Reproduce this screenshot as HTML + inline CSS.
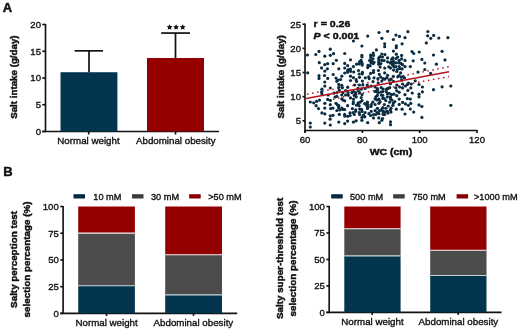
<!DOCTYPE html>
<html><head><meta charset="utf-8"><style>
html,body{margin:0;padding:0;background:#fff;}
svg{display:block;filter:blur(0.3px);}
text{font-family:"Liberation Sans",sans-serif;fill:#111;stroke:#111;stroke-width:0.35px;}
text[font-weight="bold"]{stroke-width:0.45px;}
</style></head><body>
<svg width="520" height="331" viewBox="0 0 520 331">
<rect width="520" height="331" fill="#fff"/>
<text x="2.7" y="11.9" font-size="13" font-weight="bold" text-anchor="start" style="stroke-width:0.45px">A</text>
<text x="3.2" y="176" font-size="13" font-weight="bold" text-anchor="start" style="stroke-width:0.45px">B</text>
<line x1="45.5" y1="23.9" x2="45.5" y2="131.5" stroke="#111" stroke-width="1.65"/>
<line x1="42.3" y1="131.5" x2="219" y2="131.5" stroke="#111" stroke-width="1.65"/>
<line x1="42.3" y1="131.5" x2="45.5" y2="131.5" stroke="#111" stroke-width="1.65"/>
<text x="41" y="134.9" font-size="9.6" font-weight="normal" text-anchor="end" >0</text>
<line x1="42.3" y1="104.75" x2="45.5" y2="104.75" stroke="#111" stroke-width="1.65"/>
<text x="41" y="108.15" font-size="9.6" font-weight="normal" text-anchor="end" >5</text>
<line x1="42.3" y1="78.0" x2="45.5" y2="78.0" stroke="#111" stroke-width="1.65"/>
<text x="41" y="81.4" font-size="9.6" font-weight="normal" text-anchor="end" >10</text>
<line x1="42.3" y1="51.25" x2="45.5" y2="51.25" stroke="#111" stroke-width="1.65"/>
<text x="41" y="54.65" font-size="9.6" font-weight="normal" text-anchor="end" >15</text>
<line x1="42.3" y1="24.5" x2="45.5" y2="24.5" stroke="#111" stroke-width="1.65"/>
<text x="41" y="27.9" font-size="9.6" font-weight="normal" text-anchor="end" >20</text>
<line x1="88.7" y1="131.5" x2="88.7" y2="134.5" stroke="#111" stroke-width="1.65"/>
<line x1="175.5" y1="131.5" x2="175.5" y2="134.5" stroke="#111" stroke-width="1.65"/>
<rect x="60.5" y="72.222" width="56.9" height="59.278000000000006" fill="#03364e"/>
<rect x="147" y="57.991" width="57" height="73.509" fill="#940000"/>
<line x1="89" y1="72.222" x2="89" y2="50.822" stroke="#111" stroke-width="1.7"/>
<line x1="74.6" y1="50.822" x2="103" y2="50.822" stroke="#111" stroke-width="1.7"/>
<line x1="175.5" y1="57.991" x2="175.5" y2="33.06" stroke="#111" stroke-width="1.7"/>
<line x1="161.2" y1="33.06" x2="190" y2="33.06" stroke="#111" stroke-width="1.7"/>
<polygon points="169.60,24.30 170.51,26.05 172.45,26.37 171.07,27.78 171.36,29.73 169.60,28.85 167.84,29.73 168.13,27.78 166.75,26.37 168.69,26.05" fill="#111"/>
<polygon points="176.10,24.30 177.01,26.05 178.95,26.37 177.57,27.78 177.86,29.73 176.10,28.85 174.34,29.73 174.63,27.78 173.25,26.37 175.19,26.05" fill="#111"/>
<polygon points="182.70,24.30 183.61,26.05 185.55,26.37 184.17,27.78 184.46,29.73 182.70,28.85 180.94,29.73 181.23,27.78 179.85,26.37 181.79,26.05" fill="#111"/>
<text x="88.5" y="144" font-size="9.75" font-weight="normal" text-anchor="middle" >Normal weight</text>
<text x="175.8" y="144" font-size="9.75" font-weight="normal" text-anchor="middle" >Abdominal obesity</text>
<text transform="translate(16.7,77.1) rotate(-90)" x="0" y="0" font-size="9.75" font-weight="bold" text-anchor="middle">Salt intake (g/day)</text>
<line x1="305.0" y1="23.599999999999998" x2="305.0" y2="132.6" stroke="#111" stroke-width="1.65"/>
<line x1="305.0" y1="130.5" x2="477.6" y2="130.5" stroke="#111" stroke-width="1.65"/>
<line x1="302.5" y1="120.8" x2="305.0" y2="120.8" stroke="#111" stroke-width="1.65"/>
<text x="301" y="124.2" font-size="9.6" font-weight="normal" text-anchor="end" >5</text>
<line x1="302.5" y1="96.65" x2="305.0" y2="96.65" stroke="#111" stroke-width="1.65"/>
<text x="301" y="100.05000000000001" font-size="9.6" font-weight="normal" text-anchor="end" >10</text>
<line x1="302.5" y1="72.5" x2="305.0" y2="72.5" stroke="#111" stroke-width="1.65"/>
<text x="301" y="75.9" font-size="9.6" font-weight="normal" text-anchor="end" >15</text>
<line x1="302.5" y1="48.349999999999994" x2="305.0" y2="48.349999999999994" stroke="#111" stroke-width="1.65"/>
<text x="301" y="51.74999999999999" font-size="9.6" font-weight="normal" text-anchor="end" >20</text>
<line x1="302.5" y1="24.2" x2="305.0" y2="24.2" stroke="#111" stroke-width="1.65"/>
<text x="301" y="27.599999999999998" font-size="9.6" font-weight="normal" text-anchor="end" >25</text>
<line x1="305.0" y1="130.5" x2="305.0" y2="133.0" stroke="#111" stroke-width="1.65"/>
<text x="305.0" y="143.2" font-size="9.6" font-weight="normal" text-anchor="middle" >60</text>
<line x1="362.3333333333333" y1="130.5" x2="362.3333333333333" y2="133.0" stroke="#111" stroke-width="1.65"/>
<text x="362.3333333333333" y="143.2" font-size="9.6" font-weight="normal" text-anchor="middle" >80</text>
<line x1="419.6666666666667" y1="130.5" x2="419.6666666666667" y2="133.0" stroke="#111" stroke-width="1.65"/>
<text x="419.6666666666667" y="143.2" font-size="9.6" font-weight="normal" text-anchor="middle" >100</text>
<line x1="477.0" y1="130.5" x2="477.0" y2="133.0" stroke="#111" stroke-width="1.65"/>
<text x="477.0" y="143.2" font-size="9.6" font-weight="normal" text-anchor="middle" >120</text>
<text transform="translate(390.9,155.2) scale(1.06,1)" x="0" y="0" font-size="9.9" font-weight="bold" text-anchor="middle">WC (cm)</text>
<text transform="translate(284.3,76.9) rotate(-90)" x="0" y="0" font-size="9.75" font-weight="bold" text-anchor="middle">Salt intake (g/day)</text>
<text transform="translate(313.6,26.8) scale(1.07,1)" x="0" y="0" font-size="9.9" font-weight="bold">r = 0.26</text>
<text transform="translate(313.6,38.6) scale(1.07,1)" x="0" y="0" font-size="9.9" font-weight="bold"><tspan font-style="italic">P</tspan> &lt; 0.001</text>
<path d="M307 94.2 Q380 80.5 449 66.6" fill="none" stroke="#b8121c" stroke-width="1.5" stroke-dasharray="1.5 3.6"/>
<path d="M333 99.2 Q385 88 449 76.6" fill="none" stroke="#b8121c" stroke-width="1.5" stroke-dasharray="1.5 3.6"/>
<g fill="#0a2c42">
<circle cx="307.4" cy="55.0" r="1.6"/>
<circle cx="315.8" cy="54.5" r="1.6"/>
<circle cx="319.0" cy="51.4" r="1.6"/>
<circle cx="324.8" cy="56.2" r="1.6"/>
<circle cx="330.3" cy="49.2" r="1.6"/>
<circle cx="330.3" cy="55.3" r="1.6"/>
<circle cx="333.5" cy="53.7" r="1.6"/>
<circle cx="344.7" cy="53.5" r="1.6"/>
<circle cx="353.4" cy="41.0" r="1.6"/>
<circle cx="336.4" cy="60.3" r="1.6"/>
<circle cx="350.5" cy="59.8" r="1.6"/>
<circle cx="319.3" cy="62.7" r="1.6"/>
<circle cx="324.8" cy="64.7" r="1.6"/>
<circle cx="327.7" cy="63.7" r="1.6"/>
<circle cx="333.2" cy="63.7" r="1.6"/>
<circle cx="344.7" cy="63.4" r="1.6"/>
<circle cx="321.6" cy="67.9" r="1.6"/>
<circle cx="327.4" cy="68.8" r="1.6"/>
<circle cx="324.8" cy="71.1" r="1.6"/>
<circle cx="338.8" cy="68.8" r="1.6"/>
<circle cx="344.7" cy="68.0" r="1.6"/>
<circle cx="347.6" cy="65.6" r="1.6"/>
<circle cx="353.4" cy="66.6" r="1.6"/>
<circle cx="350.5" cy="69.0" r="1.6"/>
<circle cx="367.7" cy="36.1" r="1.6"/>
<circle cx="379.0" cy="32.5" r="1.6"/>
<circle cx="387.6" cy="31.3" r="1.6"/>
<circle cx="381.9" cy="38.3" r="1.6"/>
<circle cx="393.4" cy="39.5" r="1.6"/>
<circle cx="361.9" cy="46.0" r="1.6"/>
<circle cx="384.7" cy="43.8" r="1.6"/>
<circle cx="384.7" cy="46.7" r="1.6"/>
<circle cx="376.4" cy="49.9" r="1.6"/>
<circle cx="373.2" cy="53.0" r="1.6"/>
<circle cx="370.6" cy="55.0" r="1.6"/>
<circle cx="381.8" cy="54.0" r="1.6"/>
<circle cx="393.4" cy="51.1" r="1.6"/>
<circle cx="361.9" cy="55.4" r="1.6"/>
<circle cx="396.0" cy="35.1" r="1.6"/>
<circle cx="399.5" cy="36.4" r="1.6"/>
<circle cx="407.9" cy="31.7" r="1.6"/>
<circle cx="405.0" cy="37.7" r="1.6"/>
<circle cx="402.1" cy="43.8" r="1.6"/>
<circle cx="396.3" cy="45.8" r="1.6"/>
<circle cx="396.3" cy="47.7" r="1.6"/>
<circle cx="396.3" cy="54.2" r="1.6"/>
<circle cx="401.6" cy="55.4" r="1.6"/>
<circle cx="412.0" cy="51.6" r="1.6"/>
<circle cx="413.7" cy="53.5" r="1.6"/>
<circle cx="419.2" cy="52.0" r="1.6"/>
<circle cx="427.9" cy="31.5" r="1.6"/>
<circle cx="427.7" cy="35.8" r="1.6"/>
<circle cx="430.8" cy="38.3" r="1.6"/>
<circle cx="433.7" cy="35.4" r="1.6"/>
<circle cx="438.8" cy="38.0" r="1.6"/>
<circle cx="426.3" cy="42.9" r="1.6"/>
<circle cx="433.5" cy="55.0" r="1.6"/>
<circle cx="447.9" cy="37.7" r="1.6"/>
<circle cx="442.1" cy="51.3" r="1.6"/>
<circle cx="307.7" cy="72.8" r="1.6"/>
<circle cx="347.6" cy="70.4" r="1.6"/>
<circle cx="344.7" cy="73.0" r="1.6"/>
<circle cx="319.0" cy="75.7" r="1.6"/>
<circle cx="319.0" cy="78.4" r="1.6"/>
<circle cx="324.5" cy="75.5" r="1.6"/>
<circle cx="327.7" cy="78.4" r="1.6"/>
<circle cx="333.2" cy="74.5" r="1.6"/>
<circle cx="341.8" cy="76.2" r="1.6"/>
<circle cx="336.0" cy="78.1" r="1.6"/>
<circle cx="337.9" cy="80.0" r="1.6"/>
<circle cx="340.6" cy="79.5" r="1.6"/>
<circle cx="350.5" cy="76.2" r="1.6"/>
<circle cx="350.5" cy="80.5" r="1.6"/>
<circle cx="324.8" cy="82.0" r="1.6"/>
<circle cx="324.8" cy="86.1" r="1.6"/>
<circle cx="330.3" cy="88.0" r="1.6"/>
<circle cx="321.9" cy="89.2" r="1.6"/>
<circle cx="321.6" cy="91.9" r="1.6"/>
<circle cx="321.9" cy="94.0" r="1.6"/>
<circle cx="338.8" cy="84.4" r="1.6"/>
<circle cx="341.8" cy="85.3" r="1.6"/>
<circle cx="338.8" cy="87.3" r="1.6"/>
<circle cx="347.6" cy="87.3" r="1.6"/>
<circle cx="339.3" cy="90.2" r="1.6"/>
<circle cx="336.9" cy="92.6" r="1.6"/>
<circle cx="334.0" cy="93.1" r="1.6"/>
<circle cx="345.6" cy="90.7" r="1.6"/>
<circle cx="348.0" cy="92.6" r="1.6"/>
<circle cx="341.8" cy="95.0" r="1.6"/>
<circle cx="345.6" cy="95.0" r="1.6"/>
<circle cx="328.2" cy="95.0" r="1.6"/>
<circle cx="353.4" cy="77.6" r="1.6"/>
<circle cx="356.6" cy="64.2" r="1.6"/>
<circle cx="359.5" cy="61.8" r="1.6"/>
<circle cx="361.9" cy="57.0" r="1.6"/>
<circle cx="361.0" cy="60.4" r="1.6"/>
<circle cx="358.5" cy="70.5" r="1.6"/>
<circle cx="362.4" cy="72.4" r="1.6"/>
<circle cx="353.7" cy="72.0" r="1.6"/>
<circle cx="356.1" cy="79.7" r="1.6"/>
<circle cx="359.5" cy="77.3" r="1.6"/>
<circle cx="362.4" cy="81.1" r="1.6"/>
<circle cx="365.3" cy="77.8" r="1.6"/>
<circle cx="368.7" cy="76.8" r="1.6"/>
<circle cx="367.7" cy="67.6" r="1.6"/>
<circle cx="370.1" cy="65.7" r="1.6"/>
<circle cx="369.7" cy="60.4" r="1.6"/>
<circle cx="373.0" cy="58.9" r="1.6"/>
<circle cx="374.0" cy="62.3" r="1.6"/>
<circle cx="370.6" cy="73.4" r="1.6"/>
<circle cx="373.5" cy="70.5" r="1.6"/>
<circle cx="374.0" cy="77.8" r="1.6"/>
<circle cx="373.0" cy="81.6" r="1.6"/>
<circle cx="378.8" cy="57.9" r="1.6"/>
<circle cx="378.8" cy="64.2" r="1.6"/>
<circle cx="378.4" cy="70.5" r="1.6"/>
<circle cx="379.3" cy="74.4" r="1.6"/>
<circle cx="381.8" cy="60.4" r="1.6"/>
<circle cx="384.7" cy="68.1" r="1.6"/>
<circle cx="384.7" cy="72.9" r="1.6"/>
<circle cx="387.6" cy="57.9" r="1.6"/>
<circle cx="387.6" cy="61.8" r="1.6"/>
<circle cx="391.4" cy="61.8" r="1.6"/>
<circle cx="390.5" cy="68.1" r="1.6"/>
<circle cx="393.4" cy="63.7" r="1.6"/>
<circle cx="387.6" cy="75.3" r="1.6"/>
<circle cx="393.4" cy="76.3" r="1.6"/>
<circle cx="384.7" cy="79.2" r="1.6"/>
<circle cx="377.9" cy="78.7" r="1.6"/>
<circle cx="381.8" cy="81.1" r="1.6"/>
<circle cx="389.5" cy="80.2" r="1.6"/>
<circle cx="367.2" cy="85.0" r="1.6"/>
<circle cx="359.5" cy="85.0" r="1.6"/>
<circle cx="354.7" cy="85.0" r="1.6"/>
<circle cx="392.9" cy="57.9" r="1.6"/>
<circle cx="397.7" cy="57.0" r="1.6"/>
<circle cx="401.6" cy="58.9" r="1.6"/>
<circle cx="405.0" cy="60.4" r="1.6"/>
<circle cx="398.7" cy="62.8" r="1.6"/>
<circle cx="402.6" cy="64.7" r="1.6"/>
<circle cx="395.8" cy="66.6" r="1.6"/>
<circle cx="399.7" cy="68.6" r="1.6"/>
<circle cx="405.0" cy="66.6" r="1.6"/>
<circle cx="396.8" cy="71.5" r="1.6"/>
<circle cx="400.6" cy="72.9" r="1.6"/>
<circle cx="397.7" cy="76.8" r="1.6"/>
<circle cx="404.5" cy="77.8" r="1.6"/>
<circle cx="391.0" cy="79.2" r="1.6"/>
<circle cx="401.6" cy="80.2" r="1.6"/>
<circle cx="408.4" cy="83.1" r="1.6"/>
<circle cx="411.3" cy="84.0" r="1.6"/>
<circle cx="402.6" cy="84.0" r="1.6"/>
<circle cx="396.8" cy="85.0" r="1.6"/>
<circle cx="405.5" cy="86.0" r="1.6"/>
<circle cx="413.2" cy="60.8" r="1.6"/>
<circle cx="421.9" cy="59.4" r="1.6"/>
<circle cx="424.8" cy="63.0" r="1.6"/>
<circle cx="436.4" cy="64.2" r="1.6"/>
<circle cx="410.3" cy="66.6" r="1.6"/>
<circle cx="424.8" cy="69.5" r="1.6"/>
<circle cx="418.0" cy="72.0" r="1.6"/>
<circle cx="430.6" cy="73.4" r="1.6"/>
<circle cx="419.0" cy="84.5" r="1.6"/>
<circle cx="422.4" cy="87.0" r="1.6"/>
<circle cx="445.0" cy="59.9" r="1.6"/>
<circle cx="442.1" cy="86.8" r="1.6"/>
<circle cx="450.8" cy="86.0" r="1.6"/>
<circle cx="310.3" cy="102.0" r="1.6"/>
<circle cx="313.7" cy="102.8" r="1.6"/>
<circle cx="316.6" cy="101.3" r="1.6"/>
<circle cx="319.5" cy="100.1" r="1.6"/>
<circle cx="316.1" cy="105.7" r="1.6"/>
<circle cx="318.5" cy="108.6" r="1.6"/>
<circle cx="324.8" cy="103.3" r="1.6"/>
<circle cx="324.8" cy="108.1" r="1.6"/>
<circle cx="321.9" cy="112.9" r="1.6"/>
<circle cx="324.8" cy="113.9" r="1.6"/>
<circle cx="327.7" cy="99.4" r="1.6"/>
<circle cx="330.3" cy="100.4" r="1.6"/>
<circle cx="330.3" cy="104.7" r="1.6"/>
<circle cx="330.6" cy="108.6" r="1.6"/>
<circle cx="333.0" cy="108.1" r="1.6"/>
<circle cx="330.3" cy="115.8" r="1.6"/>
<circle cx="333.0" cy="115.3" r="1.6"/>
<circle cx="330.1" cy="119.2" r="1.6"/>
<circle cx="336.0" cy="103.3" r="1.6"/>
<circle cx="338.8" cy="105.7" r="1.6"/>
<circle cx="336.9" cy="110.5" r="1.6"/>
<circle cx="339.3" cy="114.4" r="1.6"/>
<circle cx="335.0" cy="97.0" r="1.6"/>
<circle cx="341.8" cy="98.9" r="1.6"/>
<circle cx="344.7" cy="100.8" r="1.6"/>
<circle cx="347.6" cy="105.7" r="1.6"/>
<circle cx="344.7" cy="109.5" r="1.6"/>
<circle cx="341.8" cy="108.1" r="1.6"/>
<circle cx="344.7" cy="114.4" r="1.6"/>
<circle cx="347.6" cy="116.3" r="1.6"/>
<circle cx="350.0" cy="112.9" r="1.6"/>
<circle cx="352.4" cy="108.6" r="1.6"/>
<circle cx="353.4" cy="101.8" r="1.6"/>
<circle cx="350.5" cy="97.9" r="1.6"/>
<circle cx="347.6" cy="121.1" r="1.6"/>
<circle cx="344.7" cy="123.6" r="1.6"/>
<circle cx="338.8" cy="122.1" r="1.6"/>
<circle cx="324.8" cy="123.1" r="1.6"/>
<circle cx="330.3" cy="125.0" r="1.6"/>
<circle cx="310.3" cy="123.1" r="1.6"/>
<circle cx="310.3" cy="127.0" r="1.6"/>
<circle cx="353.4" cy="122.1" r="1.6"/>
<circle cx="356.1" cy="120.8" r="1.6"/>
<circle cx="361.9" cy="120.3" r="1.6"/>
<circle cx="367.7" cy="122.7" r="1.6"/>
<circle cx="370.6" cy="115.5" r="1.6"/>
<circle cx="373.5" cy="117.9" r="1.6"/>
<circle cx="378.8" cy="117.9" r="1.6"/>
<circle cx="379.3" cy="122.7" r="1.6"/>
<circle cx="381.8" cy="120.3" r="1.6"/>
<circle cx="390.5" cy="121.8" r="1.6"/>
<circle cx="390.5" cy="124.7" r="1.6"/>
<circle cx="361.9" cy="117.4" r="1.6"/>
<circle cx="364.8" cy="116.9" r="1.6"/>
<circle cx="375.9" cy="114.5" r="1.6"/>
<circle cx="384.7" cy="114.5" r="1.6"/>
<circle cx="395.8" cy="87.9" r="1.6"/>
<circle cx="399.7" cy="87.0" r="1.6"/>
<circle cx="402.6" cy="87.9" r="1.6"/>
<circle cx="396.8" cy="90.8" r="1.6"/>
<circle cx="399.2" cy="92.3" r="1.6"/>
<circle cx="393.9" cy="94.2" r="1.6"/>
<circle cx="396.8" cy="95.7" r="1.6"/>
<circle cx="407.9" cy="90.4" r="1.6"/>
<circle cx="410.8" cy="87.9" r="1.6"/>
<circle cx="412.2" cy="93.0" r="1.6"/>
<circle cx="405.0" cy="94.7" r="1.6"/>
<circle cx="419.0" cy="94.2" r="1.6"/>
<circle cx="419.0" cy="96.8" r="1.6"/>
<circle cx="422.4" cy="91.8" r="1.6"/>
<circle cx="433.5" cy="89.7" r="1.6"/>
<circle cx="399.2" cy="99.1" r="1.6"/>
<circle cx="407.4" cy="98.6" r="1.6"/>
<circle cx="410.3" cy="99.1" r="1.6"/>
<circle cx="391.9" cy="100.0" r="1.6"/>
<circle cx="394.8" cy="101.5" r="1.6"/>
<circle cx="402.6" cy="102.4" r="1.6"/>
<circle cx="405.5" cy="103.9" r="1.6"/>
<circle cx="408.4" cy="105.3" r="1.6"/>
<circle cx="410.8" cy="103.4" r="1.6"/>
<circle cx="399.2" cy="104.4" r="1.6"/>
<circle cx="392.9" cy="105.3" r="1.6"/>
<circle cx="391.0" cy="108.2" r="1.6"/>
<circle cx="396.3" cy="109.2" r="1.6"/>
<circle cx="402.1" cy="109.2" r="1.6"/>
<circle cx="410.3" cy="109.0" r="1.6"/>
<circle cx="413.7" cy="112.1" r="1.6"/>
<circle cx="405.0" cy="114.0" r="1.6"/>
<circle cx="419.0" cy="104.9" r="1.6"/>
<circle cx="421.9" cy="106.5" r="1.6"/>
<circle cx="391.0" cy="112.1" r="1.6"/>
<circle cx="421.9" cy="117.4" r="1.6"/>
<circle cx="450.8" cy="105.3" r="1.6"/>
<circle cx="353.5" cy="99.1" r="1.6"/>
<circle cx="353.2" cy="103.7" r="1.6"/>
<circle cx="356.6" cy="105.2" r="1.6"/>
<circle cx="358.2" cy="102.9" r="1.6"/>
<circle cx="361.2" cy="97.5" r="1.6"/>
<circle cx="362.0" cy="100.6" r="1.6"/>
<circle cx="364.7" cy="103.7" r="1.6"/>
<circle cx="367.4" cy="102.2" r="1.6"/>
<circle cx="368.2" cy="106.8" r="1.6"/>
<circle cx="371.2" cy="104.5" r="1.6"/>
<circle cx="372.8" cy="102.2" r="1.6"/>
<circle cx="375.1" cy="104.5" r="1.6"/>
<circle cx="375.1" cy="99.1" r="1.6"/>
<circle cx="375.8" cy="96.8" r="1.6"/>
<circle cx="378.9" cy="103.3" r="1.6"/>
<circle cx="377.4" cy="108.3" r="1.6"/>
<circle cx="375.1" cy="110.6" r="1.6"/>
<circle cx="371.2" cy="111.4" r="1.6"/>
<circle cx="368.9" cy="113.7" r="1.6"/>
<circle cx="365.1" cy="112.5" r="1.6"/>
<circle cx="362.0" cy="111.4" r="1.6"/>
<circle cx="359.7" cy="109.1" r="1.6"/>
<circle cx="355.8" cy="109.8" r="1.6"/>
<circle cx="354.3" cy="114.5" r="1.6"/>
<circle cx="359.7" cy="114.5" r="1.6"/>
<circle cx="382.8" cy="98.3" r="1.6"/>
<circle cx="385.8" cy="100.6" r="1.6"/>
<circle cx="384.3" cy="104.5" r="1.6"/>
<circle cx="382.8" cy="107.5" r="1.6"/>
<circle cx="385.8" cy="108.3" r="1.6"/>
<circle cx="388.2" cy="106.0" r="1.6"/>
<circle cx="389.7" cy="102.2" r="1.6"/>
<circle cx="390.5" cy="99.1" r="1.6"/>
<circle cx="387.4" cy="111.4" r="1.6"/>
<circle cx="382.8" cy="111.4" r="1.6"/>
<circle cx="378.9" cy="113.7" r="1.6"/>
<circle cx="373.5" cy="114.5" r="1.6"/>
<circle cx="363.5" cy="115.2" r="1.6"/>
<circle cx="356.6" cy="81.5" r="1.6"/>
<circle cx="378.2" cy="83.1" r="1.6"/>
<circle cx="353.5" cy="91.5" r="1.6"/>
<circle cx="358.2" cy="90.8" r="1.6"/>
<circle cx="361.2" cy="89.2" r="1.6"/>
<circle cx="365.1" cy="88.5" r="1.6"/>
<circle cx="368.2" cy="86.9" r="1.6"/>
<circle cx="371.2" cy="86.2" r="1.6"/>
<circle cx="375.1" cy="86.9" r="1.6"/>
<circle cx="377.4" cy="88.5" r="1.6"/>
<circle cx="381.2" cy="87.7" r="1.6"/>
<circle cx="382.8" cy="91.5" r="1.6"/>
<circle cx="386.6" cy="89.2" r="1.6"/>
<circle cx="389.7" cy="87.7" r="1.6"/>
<circle cx="375.1" cy="91.5" r="1.6"/>
<circle cx="377.4" cy="95.4" r="1.6"/>
<circle cx="382.8" cy="95.4" r="1.6"/>
<circle cx="387.4" cy="93.8" r="1.6"/>
<circle cx="390.5" cy="96.9" r="1.6"/>
<circle cx="354.3" cy="95.4" r="1.6"/>
<circle cx="362.0" cy="94.6" r="1.6"/>
<circle cx="378.9" cy="99.2" r="1.6"/>
<circle cx="384.3" cy="98.5" r="1.6"/>
<circle cx="384.9" cy="54.6" r="1.6"/>
<circle cx="380.1" cy="56.6" r="1.6"/>
<circle cx="382.5" cy="57.0" r="1.6"/>
<circle cx="378.6" cy="62.1" r="1.6"/>
<circle cx="380.9" cy="63.6" r="1.6"/>
<circle cx="384.1" cy="60.5" r="1.6"/>
<circle cx="370.7" cy="57.4" r="1.6"/>
<circle cx="373.5" cy="55.4" r="1.6"/>
<circle cx="371.5" cy="60.9" r="1.6"/>
<circle cx="373.1" cy="63.6" r="1.6"/>
<circle cx="362.1" cy="63.6" r="1.6"/>
<circle cx="390.3" cy="62.9" r="1.6"/>
<circle cx="393.5" cy="61.3" r="1.6"/>
<circle cx="392.7" cy="65.2" r="1.6"/>
<circle cx="388.8" cy="66.8" r="1.6"/>
<circle cx="355.7" cy="94.2" r="1.6"/>
<circle cx="359.6" cy="92.6" r="1.6"/>
<circle cx="343.1" cy="100.1" r="1.6"/>
<circle cx="358.1" cy="104.4" r="1.6"/>
<circle cx="360.4" cy="102.1" r="1.6"/>
<circle cx="367.5" cy="104.4" r="1.6"/>
<circle cx="367.5" cy="108.4" r="1.6"/>
<circle cx="376.9" cy="90.3" r="1.6"/>
<circle cx="378.5" cy="92.6" r="1.6"/>
<circle cx="371.0" cy="62.7" r="1.6"/>
<circle cx="368.0" cy="65.4" r="1.6"/>
<circle cx="378.9" cy="59.7" r="1.6"/>
<circle cx="380.1" cy="66.9" r="1.6"/>
<circle cx="394.0" cy="66.9" r="1.6"/>
<circle cx="361.6" cy="62.1" r="1.6"/>
<circle cx="359.2" cy="63.9" r="1.6"/>
<circle cx="362.2" cy="65.1" r="1.6"/>
<circle cx="348.9" cy="69.4" r="1.6"/>
<circle cx="347.7" cy="72.2" r="1.6"/>
<circle cx="350.7" cy="71.3" r="1.6"/>
<circle cx="359.2" cy="74.0" r="1.6"/>
<circle cx="362.2" cy="74.0" r="1.6"/>
<circle cx="336.8" cy="81.3" r="1.6"/>
<circle cx="362.8" cy="84.9" r="1.6"/>
<circle cx="373.5" cy="72.5" r="1.6"/>
<circle cx="369.2" cy="78.6" r="1.6"/>
<circle cx="380.7" cy="77.1" r="1.6"/>
<circle cx="383.1" cy="78.6" r="1.6"/>
<circle cx="386.8" cy="77.7" r="1.6"/>
<circle cx="390.4" cy="83.7" r="1.6"/>
<circle cx="393.4" cy="81.3" r="1.6"/>
<circle cx="342.3" cy="87.8" r="1.6"/>
<circle cx="342.9" cy="92.7" r="1.6"/>
<circle cx="348.3" cy="95.1" r="1.6"/>
<circle cx="351.9" cy="92.7" r="1.6"/>
<circle cx="355.6" cy="92.7" r="1.6"/>
<circle cx="358.0" cy="88.4" r="1.6"/>
<circle cx="336.8" cy="96.3" r="1.6"/>
<circle cx="356.2" cy="96.9" r="1.6"/>
<circle cx="337.4" cy="104.8" r="1.6"/>
<circle cx="383.1" cy="89.0" r="1.6"/>
<circle cx="388.0" cy="88.4" r="1.6"/>
<circle cx="377.1" cy="92.0" r="1.6"/>
<circle cx="381.3" cy="92.0" r="1.6"/>
<circle cx="386.2" cy="91.4" r="1.6"/>
<circle cx="389.2" cy="93.3" r="1.6"/>
<circle cx="381.3" cy="95.1" r="1.6"/>
<circle cx="387.4" cy="96.9" r="1.6"/>
<circle cx="377.1" cy="99.9" r="1.6"/>
<circle cx="380.1" cy="101.7" r="1.6"/>
<circle cx="393.4" cy="102.9" r="1.6"/>
<circle cx="391.6" cy="94.5" r="1.6"/>
<circle cx="338.6" cy="107.6" r="1.6"/>
<circle cx="339.8" cy="110.0" r="1.6"/>
<circle cx="342.9" cy="109.4" r="1.6"/>
<circle cx="344.7" cy="116.1" r="1.6"/>
<circle cx="350.1" cy="115.5" r="1.6"/>
<circle cx="355.6" cy="111.3" r="1.6"/>
<circle cx="359.2" cy="112.5" r="1.6"/>
<circle cx="353.1" cy="112.5" r="1.6"/>
<circle cx="359.2" cy="105.8" r="1.6"/>
<circle cx="361.6" cy="109.4" r="1.6"/>
<circle cx="366.8" cy="105.8" r="1.6"/>
<circle cx="371.0" cy="106.4" r="1.6"/>
<circle cx="377.1" cy="112.5" r="1.6"/>
<circle cx="379.5" cy="110.7" r="1.6"/>
<circle cx="381.9" cy="109.4" r="1.6"/>
<circle cx="385.0" cy="111.9" r="1.6"/>
<circle cx="383.1" cy="114.3" r="1.6"/>
<circle cx="388.0" cy="113.1" r="1.6"/>
<circle cx="390.4" cy="110.0" r="1.6"/>
<circle cx="382.5" cy="118.5" r="1.6"/>
<circle cx="391.8" cy="59.2" r="1.6"/>
<circle cx="396.0" cy="58.6" r="1.6"/>
<circle cx="399.1" cy="60.4" r="1.6"/>
<circle cx="391.8" cy="63.4" r="1.6"/>
<circle cx="396.0" cy="62.8" r="1.6"/>
<circle cx="400.9" cy="63.4" r="1.6"/>
<circle cx="399.1" cy="66.5" r="1.6"/>
<circle cx="397.3" cy="69.5" r="1.6"/>
<circle cx="402.1" cy="68.9" r="1.6"/>
<circle cx="393.6" cy="70.1" r="1.6"/>
<circle cx="399.1" cy="75.5" r="1.6"/>
<circle cx="403.3" cy="76.8" r="1.6"/>
<circle cx="401.3" cy="77.2" r="1.6"/>
<circle cx="407.4" cy="84.5" r="1.6"/>
<circle cx="415.2" cy="80.8" r="1.6"/>
</g>
<line x1="305" y1="98.7" x2="449" y2="71.8" stroke="#b8121c" stroke-width="1.45"/>
<line x1="63.1" y1="205.9" x2="63.1" y2="313.4" stroke="#111" stroke-width="1.65"/>
<line x1="60.300000000000004" y1="313.4" x2="237.2" y2="313.4" stroke="#111" stroke-width="1.65"/>
<line x1="60.300000000000004" y1="313.4" x2="63.1" y2="313.4" stroke="#111" stroke-width="1.65"/>
<text x="58.800000000000004" y="316.79999999999995" font-size="9.6" font-weight="normal" text-anchor="end" >0</text>
<line x1="60.300000000000004" y1="286.67499999999995" x2="63.1" y2="286.67499999999995" stroke="#111" stroke-width="1.65"/>
<text x="58.800000000000004" y="290.07499999999993" font-size="9.6" font-weight="normal" text-anchor="end" >25</text>
<line x1="60.300000000000004" y1="259.95" x2="63.1" y2="259.95" stroke="#111" stroke-width="1.65"/>
<text x="58.800000000000004" y="263.34999999999997" font-size="9.6" font-weight="normal" text-anchor="end" >50</text>
<line x1="60.300000000000004" y1="233.225" x2="63.1" y2="233.225" stroke="#111" stroke-width="1.65"/>
<text x="58.800000000000004" y="236.625" font-size="9.6" font-weight="normal" text-anchor="end" >75</text>
<line x1="60.300000000000004" y1="206.5" x2="63.1" y2="206.5" stroke="#111" stroke-width="1.65"/>
<text x="58.800000000000004" y="209.9" font-size="9.6" font-weight="normal" text-anchor="end" >100</text>
<rect x="78.2" y="206.5" width="56.7" height="26.618100000000027" fill="#940000"/>
<rect x="78.2" y="233.11810000000003" width="56.7" height="52.70169999999996" fill="#4c4c4c"/>
<rect x="78.2" y="285.8198" width="56.7" height="27.58019999999999" fill="#03364e"/>
<line x1="78.2" y1="233.12" x2="134.9" y2="233.12" stroke="#f4e8e8" stroke-width="1.1"/>
<line x1="78.2" y1="285.82" x2="134.9" y2="285.82" stroke="#c4d4dc" stroke-width="1.1"/>
<rect x="165.2" y="206.5" width="56.8" height="48.31880000000001" fill="#940000"/>
<rect x="165.2" y="254.8188" width="56.8" height="40.08749999999998" fill="#4c4c4c"/>
<rect x="165.2" y="294.9063" width="56.8" height="18.49369999999999" fill="#03364e"/>
<line x1="165.2" y1="254.82" x2="222.0" y2="254.82" stroke="#f4e8e8" stroke-width="1.1"/>
<line x1="165.2" y1="294.91" x2="222.0" y2="294.91" stroke="#c4d4dc" stroke-width="1.1"/>
<line x1="106.5" y1="313.4" x2="106.5" y2="315.9" stroke="#111" stroke-width="1.65"/>
<line x1="193.5" y1="313.4" x2="193.5" y2="315.9" stroke="#111" stroke-width="1.65"/>
<rect x="73.5" y="194.2" width="11.5" height="4.3" fill="#042a3e"/>
<text x="93.3" y="199.6" font-size="9.2" font-weight="normal" text-anchor="start" >10 mM</text>
<rect x="132" y="194.2" width="11.5" height="4.3" fill="#3c3c3c"/>
<text x="151.0" y="199.6" font-size="9.2" font-weight="normal" text-anchor="start" >30 mM</text>
<rect x="189.2" y="194.2" width="11.5" height="4.3" fill="#880000"/>
<text x="208.2" y="199.6" font-size="9.2" font-weight="normal" text-anchor="start" >&gt;50 mM</text>
<text x="106.6" y="325.9" font-size="9.75" font-weight="normal" text-anchor="middle" >Normal weight</text>
<text x="193.4" y="325.9" font-size="9.75" font-weight="normal" text-anchor="middle" >Abdominal obesity</text>
<text transform="translate(16.6,259.5) rotate(-90)" x="0" y="0" font-size="9.85" font-weight="bold" text-anchor="middle">Salty perception test</text>
<text transform="translate(29.6,259.5) rotate(-90)" x="0" y="0" font-size="9.85" font-weight="bold" text-anchor="middle">selection percentage (%)</text>
<line x1="329.2" y1="205.9" x2="329.2" y2="312.4" stroke="#111" stroke-width="1.65"/>
<line x1="326.4" y1="312.4" x2="501.5" y2="312.4" stroke="#111" stroke-width="1.65"/>
<line x1="326.4" y1="312.4" x2="329.2" y2="312.4" stroke="#111" stroke-width="1.65"/>
<text x="324.9" y="315.79999999999995" font-size="9.6" font-weight="normal" text-anchor="end" >0</text>
<line x1="326.4" y1="285.92499999999995" x2="329.2" y2="285.92499999999995" stroke="#111" stroke-width="1.65"/>
<text x="324.9" y="289.32499999999993" font-size="9.6" font-weight="normal" text-anchor="end" >25</text>
<line x1="326.4" y1="259.45" x2="329.2" y2="259.45" stroke="#111" stroke-width="1.65"/>
<text x="324.9" y="262.84999999999997" font-size="9.6" font-weight="normal" text-anchor="end" >50</text>
<line x1="326.4" y1="232.975" x2="329.2" y2="232.975" stroke="#111" stroke-width="1.65"/>
<text x="324.9" y="236.375" font-size="9.6" font-weight="normal" text-anchor="end" >75</text>
<line x1="326.4" y1="206.5" x2="329.2" y2="206.5" stroke="#111" stroke-width="1.65"/>
<text x="324.9" y="209.9" font-size="9.6" font-weight="normal" text-anchor="end" >100</text>
<rect x="344.3" y="206.5" width="56.3" height="22.238999999999976" fill="#940000"/>
<rect x="344.3" y="228.73899999999998" width="56.3" height="27.110400000000027" fill="#4c4c4c"/>
<rect x="344.3" y="255.8494" width="56.3" height="56.550599999999974" fill="#03364e"/>
<line x1="344.3" y1="228.74" x2="400.6" y2="228.74" stroke="#f4e8e8" stroke-width="1.1"/>
<line x1="344.3" y1="255.85" x2="400.6" y2="255.85" stroke="#c4d4dc" stroke-width="1.1"/>
<rect x="430.2" y="206.5" width="56.3" height="43.736699999999985" fill="#940000"/>
<rect x="430.2" y="250.23669999999998" width="56.3" height="25.310099999999977" fill="#4c4c4c"/>
<rect x="430.2" y="275.54679999999996" width="56.3" height="36.853200000000015" fill="#03364e"/>
<line x1="430.2" y1="250.24" x2="486.5" y2="250.24" stroke="#f4e8e8" stroke-width="1.1"/>
<line x1="430.2" y1="275.55" x2="486.5" y2="275.55" stroke="#c4d4dc" stroke-width="1.1"/>
<line x1="372.2" y1="312.4" x2="372.2" y2="314.9" stroke="#111" stroke-width="1.65"/>
<line x1="458.2" y1="312.4" x2="458.2" y2="314.9" stroke="#111" stroke-width="1.65"/>
<rect x="331.2" y="194.2" width="11.5" height="4.3" fill="#042a3e"/>
<text x="350.0" y="199.6" font-size="9.2" font-weight="normal" text-anchor="start" >500 mM</text>
<rect x="393.2" y="194.2" width="11.5" height="4.3" fill="#3c3c3c"/>
<text x="412.5" y="199.6" font-size="9.2" font-weight="normal" text-anchor="start" >750 mM</text>
<rect x="456.6" y="194.2" width="11.5" height="4.3" fill="#880000"/>
<text x="474.0" y="199.6" font-size="9.2" font-weight="normal" text-anchor="start" >&gt;1000 mM</text>
<text x="372.5" y="324.9" font-size="9.75" font-weight="normal" text-anchor="middle" >Normal weight</text>
<text x="458.4" y="324.9" font-size="9.75" font-weight="normal" text-anchor="middle" >Abdominal obesity</text>
<text transform="translate(283.3,258.4) rotate(-90)" x="0" y="0" font-size="9.85" font-weight="bold" text-anchor="middle">Salty super-threshold test</text>
<text transform="translate(295.6,258.4) rotate(-90)" x="0" y="0" font-size="9.85" font-weight="bold" text-anchor="middle">selection percentage (%)</text>
</svg></body></html>
